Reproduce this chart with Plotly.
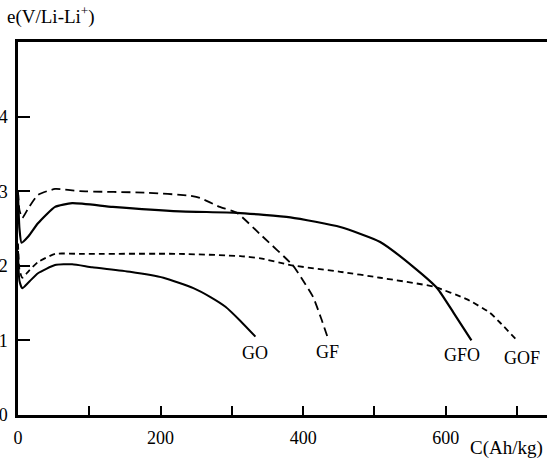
import plotly.graph_objects as go

# Discharge curves: capacity C (Ah/kg) vs. potential e (V vs Li/Li+)
go_cap = [0, 2, 6, 15, 28, 52, 76, 104, 157, 204, 246, 270, 291, 312, 333]
go_e = [2.2, 1.8, 1.7, 1.78, 1.9, 2.01, 2.02, 1.98, 1.92, 1.84, 1.70, 1.58, 1.45, 1.26, 1.05]

gf_cap = [0, 2, 6, 15, 28, 52, 87, 181, 241, 255, 283, 307, 340, 386, 400, 414, 425, 435]
gf_e = [3.0, 2.75, 2.64, 2.78, 2.95, 3.03, 3.0, 2.98, 2.94, 2.91, 2.79, 2.71, 2.42, 2.0, 1.8, 1.58, 1.3, 1.02]

gfo_cap = [0, 2, 5, 15, 28, 52, 76, 133, 227, 307, 382, 452, 508, 554, 588, 611, 636]
gfo_e = [2.95, 2.5, 2.31, 2.4, 2.57, 2.79, 2.84, 2.79, 2.73, 2.71, 2.65, 2.52, 2.32, 1.99, 1.70, 1.37, 1.0]

gof_cap = [0, 2, 6, 15, 28, 52, 87, 227, 312, 340, 382, 452, 508, 583, 630, 662, 676, 700]
gof_e = [2.3, 1.95, 1.84, 1.93, 2.05, 2.16, 2.16, 2.16, 2.13, 2.10, 2.01, 1.92, 1.84, 1.72, 1.55, 1.37, 1.24, 1.0]

curve_names = ["GO", "GF", "GFO", "GOF"]
label_cap = [333, 434, 623, 707]
label_e = [0.83, 0.84, 0.80, 0.76]

x_ticks = [0, 200, 400, 600]
y_ticks = [0, 1, 2, 3, 4]

SERIF = "Liberation Serif, Times New Roman, serif"
FS = 18

fig = go.Figure()
series = [
    (go_cap, go_e, "solid", 2.0),
    (gf_cap, gf_e, "9px,5px", 1.8),
    (gfo_cap, gfo_e, "solid", 2.2),
    (gof_cap, gof_e, "6px,4px", 1.8),
]
for name, (cx, cy, dash, w) in zip(curve_names, series):
    fig.add_trace(go.Scatter(
        x=cx, y=cy, mode="lines", name=name,
        line=dict(color="black", width=w, dash=dash, shape="spline", smoothing=0.5),
    ))

for name, lx, ly in zip(curve_names, label_cap, label_e):
    fig.add_annotation(x=lx, y=ly, text=name, showarrow=False,
                       font=dict(family=SERIF, size=FS, color="black"))

fig.add_annotation(xref="paper", yref="paper", x=-0.025, y=1.072,
                   xanchor="left", yanchor="middle", showarrow=False,
                   text="e(V/Li-Li<sup>+</sup>)",
                   font=dict(family=SERIF, size=19, color="black"))
fig.add_annotation(xref="paper", yref="paper", x=0.996, y=-0.088,
                   xanchor="right", yanchor="middle", showarrow=False,
                   text="C(Ah/kg)",
                   font=dict(family=SERIF, size=19, color="black"))

fig.update_layout(
    width=547, height=462,
    margin=dict(l=18, r=0, t=42, b=47),
    paper_bgcolor="white", plot_bgcolor="white",
    showlegend=False,
    font=dict(family=SERIF, size=FS, color="black"),
)
fig.update_xaxes(
    range=[0, 742], tickvals=x_ticks, automargin=False,
    ticks="inside", ticklen=9, tickwidth=2, tickcolor="black",
    minor=dict(dtick=100, tick0=0, ticks="inside", ticklen=9, tickwidth=2,
               tickcolor="black", showgrid=False),
    showline=True, linecolor="black", linewidth=2.5, mirror=True,
    showgrid=False, zeroline=False, ticklabelstandoff=5,
)
fig.update_yaxes(
    range=[0, 5], tickvals=y_ticks, automargin=False,
    ticks="inside", ticklen=12, tickwidth=2, tickcolor="black",
    showline=True, linecolor="black", linewidth=2.5, mirror=False,
    showgrid=False, zeroline=False, ticklabelstandoff=4,
)

fig.write_html("out.html")
